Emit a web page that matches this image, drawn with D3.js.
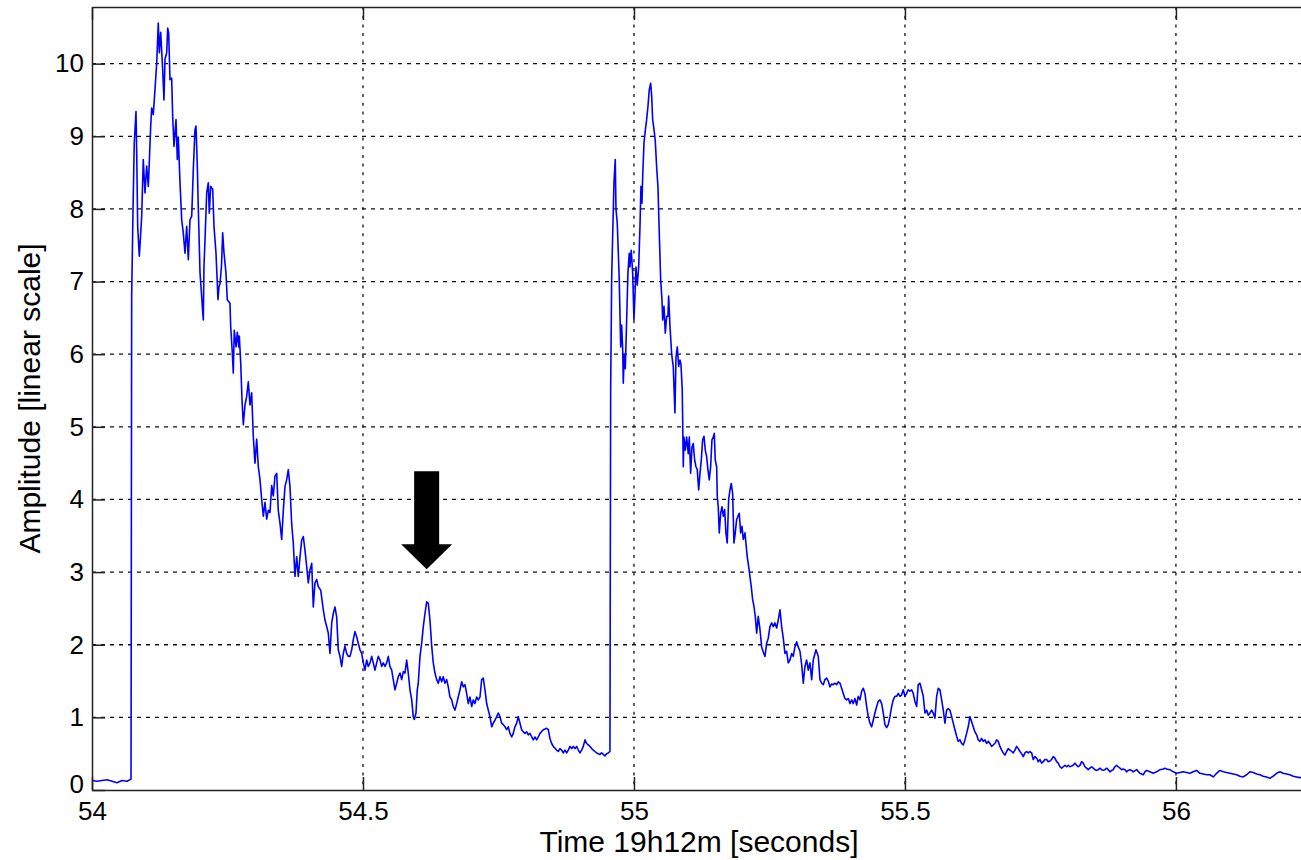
<!DOCTYPE html>
<html>
<head>
<meta charset="utf-8">
<script src="https://cdn.jsdelivr.net/npm/d3@7"></script>
<style>
	body { margin: 0; background: #fff; }
	svg { display: block; font-family: "Liberation Sans", Arial, sans-serif; }
	.grid line { stroke: #111; stroke-width: 1.3; }
	.axis path, .axis line { stroke: #222; stroke-width: 1.5; }
	.axis text { font-size: 26px; fill: #000; }
	.label { font-size: 30px; fill: #000; }
</style>
</head>
<body>
<div id="chart"></div>
<script>
// segnale: [tempo (s), ampiezza]
const firstPulse = [
	[54.0000,0.13],[54.0092,0.12],[54.0185,0.13],[54.0277,0.14],[54.0369,0.12],[54.0461,0.10],[54.0554,0.13],[54.0646,0.12],[54.0720,0.15],
	[54.0732,6.79],[54.0756,7.95],[54.0780,8.91],[54.0812,9.34],[54.0825,8.77],[54.0843,7.76],[54.0873,7.35],[54.0899,7.67],[54.0917,7.90],
	[54.0946,8.68],[54.0978,8.22],[54.1009,8.59],[54.1039,8.31],[54.1057,8.64],[54.1083,9.14],[54.1101,9.39],[54.1131,9.30],[54.1162,9.64],
	[54.1194,10.01],[54.1223,10.56],[54.1242,10.15],[54.1268,10.43],[54.1304,9.92],[54.1328,9.50],[54.1347,10.06],[54.1378,10.15],[54.1397,10.49],
	[54.1415,10.42],[54.1439,9.78],[54.1470,9.80],[54.1489,9.27],[54.1513,8.86],[54.1550,9.23],[54.1574,8.68],[54.1592,8.99],[54.1624,8.36],
	[54.1655,7.85],[54.1684,7.67],[54.1716,7.39],[54.1747,7.76],[54.1777,7.30],[54.1808,7.85],[54.1840,7.90],[54.1869,8.54],[54.1900,9.09],
	[54.1919,9.14],[54.1943,8.59],[54.1961,8.03],[54.1993,7.12],[54.2024,6.79],[54.2042,6.59],[54.2054,6.47],[54.2066,7.20],[54.2085,7.57],
	[54.2116,8.22],[54.2146,8.36],[54.2164,7.94],[54.2190,8.31],[54.2227,8.27],[54.2251,7.76],[54.2288,7.39],[54.2325,6.75],[54.2343,6.93],
	[54.2362,6.97],[54.2389,7.21],[54.2411,7.67],[54.2435,7.40],[54.2472,7.12],[54.2496,6.75],[54.2546,6.70],[54.2559,6.38],[54.2589,6.02],
	[54.2607,5.74],[54.2625,6.33],[54.2657,6.10],[54.2681,6.30],[54.2707,6.10],[54.2718,6.25],[54.2744,5.88],[54.2768,5.37],[54.2792,5.03],
	[54.2823,5.30],[54.2854,5.42],[54.2884,5.62],[54.2915,5.30],[54.2946,5.47],[54.2976,4.87],[54.3007,4.50],[54.3039,4.83],[54.3068,4.46],
	[54.3100,4.27],[54.3131,4.00],[54.3161,3.77],[54.3192,3.96],[54.3223,3.73],[54.3253,3.85],[54.3284,3.82],[54.3316,4.19],[54.3345,4.05],
	[54.3376,4.32],[54.3408,4.36],[54.3437,3.85],[54.3469,3.67],[54.3500,3.45],[54.3530,3.85],[54.3561,4.18],[54.3592,4.27],[54.3622,4.41],
	[54.3653,4.18],[54.3684,3.67],[54.3714,3.40],[54.3745,2.94],[54.3777,3.21],[54.3806,2.94],[54.3838,3.21],[54.3869,3.44],[54.3899,3.49],
	[54.3930,3.30],[54.3961,3.08],[54.3991,2.85],[54.4022,3.03],[54.4054,3.12],[54.4083,2.52],[54.4114,2.85],[54.4146,2.90],[54.4175,2.80],
	[54.4220,2.75],[54.4268,2.48],[54.4299,2.34],[54.4330,2.25],[54.4360,2.16],[54.4391,1.88],[54.4423,2.30],[54.4452,2.43],[54.4483,2.52],
	[54.4515,2.38],[54.4544,1.93],[54.4576,1.84],[54.4607,1.70],[54.4637,1.88],[54.4668,1.98],[54.4699,1.88],[54.4729,1.84],[54.4760,1.84],
	[54.4792,1.93],[54.4821,2.07],[54.4852,2.18],[54.4884,2.11],[54.4913,2.02],[54.4945,1.93],[54.4976,1.88],[54.5006,1.75],[54.5037,1.65],
	[54.5068,1.79],[54.5098,1.70],[54.5129,1.75],[54.5161,1.84],[54.5190,1.75],[54.5221,1.65],[54.5253,1.75],[54.5282,1.84],[54.5314,1.79],
	[54.5345,1.70],[54.5375,1.75],[54.5406,1.70],[54.5437,1.75],[54.5467,1.84],[54.5498,1.70],[54.5530,1.65],[54.5559,1.52],[54.5590,1.38],
	[54.5622,1.47],[54.5651,1.56],[54.5683,1.61],[54.5714,1.52],[54.5744,1.63],[54.5775,1.61],[54.5806,1.79],[54.5836,1.61],[54.5867,1.38],
	[54.5899,1.24],[54.5928,1.01],[54.5947,0.97],[54.5978,1.06],[54.6002,1.38],[54.6020,1.47],[54.6052,1.84],[54.6083,2.02],[54.6113,2.25],
	[54.6144,2.43],[54.6175,2.59],[54.6205,2.57],[54.6236,2.34],[54.6268,1.98],[54.6297,1.75],[54.6328,1.61],[54.6360,1.52],[54.6389,1.47],
	[54.6421,1.56],[54.6452,1.49],[54.6482,1.56],[54.6513,1.47],[54.6544,1.52],[54.6574,1.42],[54.6605,1.28],[54.6637,1.24],[54.6666,1.15],
	[54.6697,1.10],[54.6729,1.19],[54.6758,1.28],[54.6790,1.38],[54.6821,1.49],[54.6851,1.42],[54.6882,1.45],[54.6913,1.33],[54.6943,1.19],
	[54.6974,1.28],[54.7006,1.15],[54.7035,1.24],[54.7066,1.19],[54.7098,1.28],[54.7127,1.24],[54.7159,1.28],[54.7190,1.52],[54.7220,1.54],
	[54.7251,1.38],[54.7282,1.19],[54.7312,1.10],[54.7343,1.01],[54.7375,0.87],[54.7404,0.92],[54.7435,0.96],[54.7467,1.01],[54.7496,1.06],
	[54.7528,1.01],[54.7559,0.92],[54.7589,0.90],[54.7620,0.87],[54.7651,0.83],[54.7681,0.87],[54.7712,0.78],[54.7744,0.73],[54.7773,0.78],
	[54.7804,0.87],[54.7836,0.92],[54.7865,1.01],[54.7897,0.92],[54.7928,0.83],[54.7958,0.80],[54.7989,0.78],[54.8020,0.80],[54.8050,0.76],
	[54.8081,0.78],[54.8113,0.73],[54.8142,0.69],[54.8173,0.73],[54.8205,0.69],[54.8234,0.73],[54.8266,0.78],[54.8327,0.83],[54.8389,0.85],
	[54.8419,0.83],[54.8450,0.71],[54.8481,0.64],[54.8511,0.60],[54.8574,0.55],[54.8603,0.53],[54.8635,0.57],[54.8666,0.55],[54.8696,0.51],
	[54.8727,0.55],[54.8758,0.51],[54.8788,0.55],[54.8819,0.60],[54.8851,0.57],[54.8880,0.60],[54.8911,0.57],[54.8943,0.60],[54.8972,0.55],
	[54.9004,0.51],[54.9035,0.55],[54.9065,0.60],[54.9096,0.69],[54.9127,0.64],[54.9157,0.62],[54.9188,0.60],[54.9220,0.57],[54.9249,0.55],
	[54.9280,0.53],[54.9312,0.51],[54.9341,0.50],[54.9373,0.49],[54.9404,0.51],[54.9434,0.49],[54.9465,0.47],[54.9496,0.50],[54.9526,0.51],
	[54.9557,0.53]
];

const secondPulse = [
	[54.9570,5.51],[54.9589,7.07],[54.9607,7.62],[54.9631,8.36],[54.9655,8.68],[54.9668,8.00],[54.9692,7.80],[54.9718,7.25],[54.9729,7.00],
	[54.9755,6.10],[54.9773,6.40],[54.9792,6.06],[54.9803,5.60],[54.9821,6.00],[54.9840,5.80],[54.9865,6.47],[54.9889,7.12],[54.9913,7.39],
	[54.9926,7.20],[54.9950,7.43],[54.9976,7.12],[55.0000,6.47],[55.0018,6.80],[55.0037,7.20],[55.0061,6.95],[55.0087,7.20],[55.0111,7.76],
	[55.0129,8.31],[55.0148,8.08],[55.0161,8.45],[55.0185,8.91],[55.0209,9.08],[55.0234,9.23],[55.0258,9.41],[55.0282,9.64],[55.0308,9.73],
	[55.0327,9.55],[55.0345,9.23],[55.0369,9.10],[55.0393,8.94],[55.0419,8.57],[55.0443,8.30],[55.0467,7.67],[55.0493,7.02],[55.0517,6.75],
	[55.0530,6.47],[55.0554,6.66],[55.0578,6.29],[55.0603,6.52],[55.0627,6.52],[55.0640,6.80],[55.0664,6.39],[55.0696,6.00],[55.0725,5.83],
	[55.0756,5.19],[55.0775,5.95],[55.0799,6.10],[55.0825,5.83],[55.0849,5.92],[55.0867,5.86],[55.0891,5.51],[55.0910,4.45],[55.0923,4.86],
	[55.0947,4.68],[55.0972,4.86],[55.1002,4.63],[55.1021,4.86],[55.1046,4.36],[55.1070,4.72],[55.1094,4.77],[55.1120,4.54],[55.1144,4.45],
	[55.1168,4.41],[55.1194,4.13],[55.1218,4.36],[55.1242,4.54],[55.1267,4.82],[55.1292,4.87],[55.1316,4.68],[55.1341,4.59],[55.1365,4.41],
	[55.1389,4.27],[55.1415,4.45],[55.1439,4.82],[55.1463,4.86],[55.1482,4.91],[55.1500,4.54],[55.1526,4.45],[55.1537,4.04],[55.1555,3.90],
	[55.1574,3.54],[55.1600,3.81],[55.1624,3.90],[55.1648,3.77],[55.1673,3.86],[55.1697,3.54],[55.1721,3.40],[55.1747,4.00],[55.1771,4.13],
	[55.1795,4.22],[55.1821,4.08],[55.1845,3.40],[55.1869,3.54],[55.1894,3.72],[55.1919,3.77],[55.1943,3.81],[55.1968,3.54],[55.1993,3.63],
	[55.2017,3.45],[55.2048,3.54],[55.2066,3.40],[55.2090,3.21],[55.2116,3.08],[55.2140,2.94],[55.2164,2.80],[55.2190,2.62],[55.2214,2.53],
	[55.2238,2.39],[55.2264,2.16],[55.2293,2.39],[55.2325,2.21],[55.2356,1.97],[55.2386,1.90],[55.2417,1.84],[55.2448,2.02],[55.2478,2.09],
	[55.2509,2.25],[55.2541,2.30],[55.2570,2.25],[55.2601,2.30],[55.2633,2.23],[55.2662,2.34],[55.2694,2.48],[55.2725,2.25],[55.2755,2.09],
	[55.2786,1.88],[55.2817,1.91],[55.2847,1.75],[55.2878,1.79],[55.2910,1.88],[55.2939,1.84],[55.2970,1.97],[55.3002,2.04],[55.3031,1.97],
	[55.3063,1.91],[55.3094,1.73],[55.3124,1.47],[55.3155,1.70],[55.3186,1.79],[55.3216,1.65],[55.3247,1.75],[55.3279,1.52],[55.3308,1.79],
	[55.3358,1.93],[55.3401,1.84],[55.3432,1.52],[55.3463,1.47],[55.3493,1.45],[55.3524,1.52],[55.3555,1.54],[55.3585,1.50],[55.3616,1.42],
	[55.3648,1.46],[55.3677,1.45],[55.3708,1.47],[55.3740,1.45],[55.3769,1.49],[55.3801,1.47],[55.3832,1.40],[55.3862,1.33],[55.3893,1.26],
	[55.3924,1.24],[55.3954,1.26],[55.3985,1.19],[55.4017,1.24],[55.4046,1.19],[55.4077,1.26],[55.4109,1.17],[55.4138,1.29],[55.4170,1.24],
	[55.4201,1.36],[55.4231,1.40],[55.4262,1.33],[55.4293,1.15],[55.4323,1.01],[55.4354,0.92],[55.4386,0.87],[55.4415,0.96],[55.4446,1.06],
	[55.4478,1.15],[55.4507,1.22],[55.4539,1.24],[55.4570,1.19],[55.4600,1.06],[55.4631,0.90],[55.4662,0.86],[55.4692,0.90],[55.4723,1.01],
	[55.4755,1.15],[55.4784,1.24],[55.4815,1.29],[55.4847,1.29],[55.4876,1.33],[55.4908,1.29],[55.4939,1.31],[55.4969,1.38],[55.5000,1.29],
	[55.5031,1.33],[55.5061,1.38],[55.5092,1.36],[55.5124,1.38],[55.5153,1.33],[55.5184,1.22],[55.5216,1.15],[55.5245,1.45],[55.5277,1.47],
	[55.5308,1.38],[55.5338,1.29],[55.5369,1.06],[55.5400,1.10],[55.5430,1.03],[55.5461,1.06],[55.5493,1.10],[55.5522,1.06],[55.5553,0.99],
	[55.5585,1.29],[55.5614,1.40],[55.5646,1.38],[55.5677,1.24],[55.5707,1.10],[55.5738,0.92],[55.5769,1.10],[55.5799,1.12],[55.5830,1.10],
	[55.5862,1.01],[55.5891,0.92],[55.5922,0.83],[55.5954,0.74],[55.5983,0.67],[55.6015,0.69],[55.6046,0.64],[55.6076,0.62],[55.6107,0.69],
	[55.6138,0.78],[55.6168,0.87],[55.6199,1.01],[55.6231,0.94],[55.6260,0.87],[55.6291,0.80],[55.6323,0.76],[55.6352,0.69],[55.6384,0.67],
	[55.6415,0.71],[55.6445,0.67],[55.6476,0.69],[55.6507,0.64],[55.6537,0.67],[55.6568,0.64],[55.6600,0.60],[55.6629,0.62],[55.6660,0.64],
	[55.6692,0.69],[55.6721,0.67],[55.6753,0.60],[55.6784,0.55],[55.6814,0.51],[55.6845,0.48],[55.6876,0.53],[55.6906,0.57],[55.6937,0.55],
	[55.6969,0.53],[55.6998,0.51],[55.7029,0.55],[55.7061,0.60],[55.7090,0.57],[55.7122,0.53],[55.7153,0.50],[55.7183,0.46],[55.7214,0.51],
	[55.7245,0.53],[55.7275,0.51],[55.7306,0.53],[55.7338,0.51],[55.7367,0.42],[55.7398,0.46],[55.7430,0.44],[55.7459,0.39],[55.7491,0.42],
	[55.7522,0.37],[55.7552,0.39],[55.7583,0.42],[55.7614,0.42],[55.7644,0.39],[55.7675,0.40],[55.7707,0.42],[55.7736,0.46],[55.7767,0.44],
	[55.7799,0.39],[55.7828,0.37],[55.7860,0.32],[55.7891,0.30],[55.7921,0.32],[55.7952,0.34],[55.7983,0.32],[55.8013,0.34],[55.8044,0.32],
	[55.8076,0.33],[55.8105,0.34],[55.8136,0.37],[55.8168,0.34],[55.8197,0.32],[55.8229,0.34],[55.8260,0.39],[55.8290,0.37],[55.8321,0.32],
	[55.8352,0.30],[55.8382,0.28],[55.8413,0.30],[55.8445,0.32],[55.8474,0.30],[55.8505,0.28],[55.8537,0.27],[55.8566,0.28],[55.8598,0.30],
	[55.8629,0.28],[55.8659,0.27],[55.8690,0.28],[55.8721,0.30],[55.8751,0.28],[55.8782,0.25],[55.8814,0.27],[55.8843,0.28],[55.8874,0.32],
	[55.8906,0.34],[55.8935,0.32],[55.8967,0.30],[55.8998,0.28],[55.9028,0.29],[55.9059,0.28],[55.9090,0.25],[55.9120,0.27],[55.9151,0.28],
	[55.9183,0.27],[55.9212,0.25],[55.9275,0.28],[55.9336,0.23],[55.9397,0.21],[55.9428,0.25],[55.9459,0.27],[55.9520,0.25],[55.9581,0.23],
	[55.9644,0.25],[55.9705,0.28],[55.9766,0.29],[55.9797,0.30],[55.9828,0.29],[55.9889,0.28],[55.9950,0.25],[56.0013,0.23],[56.0074,0.24],
	[56.0135,0.25],[56.0197,0.24],[56.0258,0.23],[56.0319,0.25],[56.0382,0.27],[56.0443,0.23],[56.0504,0.22],[56.0566,0.21],[56.0627,0.21],
	[56.0688,0.18],[56.0751,0.23],[56.0780,0.25],[56.0812,0.27],[56.0872,0.25],[56.0935,0.24],[56.0996,0.23],[56.1057,0.22],[56.1120,0.21],
	[56.1181,0.19],[56.1241,0.18],[56.1304,0.21],[56.1365,0.25],[56.1426,0.24],[56.1489,0.22],[56.1550,0.21],[56.1610,0.19],[56.1673,0.18],
	[56.1734,0.16],[56.1795,0.19],[56.1858,0.23],[56.1919,0.25],[56.1979,0.23],[56.2042,0.22],[56.2103,0.21],[56.2164,0.19],[56.2227,0.18],
	[56.2288,0.17],[56.2380,0.18]
];

const xTicks = [54, 54.5, 55, 55.5, 56];
const yTicks = [0, 1, 2, 3, 4, 5, 6, 7, 8, 9, 10];
const xDomain = [54, 56.24];
const yDomain = [0, 10.78];

// punta della freccia nera [tempo, ampiezza]
const arrowTip = [54.6175, 3.04];

function drawChart() {
	const width = 1301, height = 860;
	// il bordo destro del grafico cade appena fuori dall'immagine
	const plot = { left: 92, top: 7, right: 1306, bottom: 790 };

	const x = d3.scaleLinear().domain(xDomain).range([plot.left, plot.right]);
	const y = d3.scaleLinear().domain(yDomain).range([plot.bottom, plot.top]);

	const svg = d3.select("#chart").append("svg")
		.attr("width", width)
		.attr("height", height);

	svg.append("rect").attr("width", width).attr("height", height).attr("fill", "#fff");

	svg.append("clipPath").attr("id", "clip")
		.append("rect")
		.attr("x", plot.left).attr("y", plot.top)
		.attr("width", plot.right - plot.left).attr("height", plot.bottom - plot.top);

	// griglia
	const grid = svg.append("g").attr("class", "grid");
	grid.selectAll(".hgrid")
		.data(yTicks.filter(d => d > 0))
		.enter().append("line")
		.attr("x1", plot.left).attr("x2", plot.right)
		.attr("y1", d => y(d)).attr("y2", d => y(d))
		.attr("stroke-dasharray", "4,5");
	grid.selectAll(".vgrid")
		.data(xTicks.filter(d => d > xDomain[0]))
		.enter().append("line")
		.attr("x1", d => x(d)).attr("x2", d => x(d))
		.attr("y1", plot.top).attr("y2", plot.bottom)
		.attr("stroke-dasharray", "3,5.7");

	// segnale
	const line = d3.line().x(d => x(d[0])).y(d => y(d[1]));
	svg.append("path")
		.datum(firstPulse.concat(secondPulse))
		.attr("clip-path", "url(#clip)")
		.attr("fill", "none")
		.attr("stroke", "#0000ff")
		.attr("stroke-width", 1.6)
		.attr("stroke-linejoin", "round")
		.attr("d", line);

	// assi con tacche verso l'interno, stile matlab
	svg.append("g").attr("class", "axis")
		.attr("transform", "translate(0," + plot.bottom + ")")
		.call(d3.axisBottom(x).tickValues(xTicks).tickSize(-13).tickSizeOuter(0).tickPadding(12)
			.tickFormat(d3.format("")));
	svg.append("g").attr("class", "axis")
		.attr("transform", "translate(0," + plot.top + ")")
		.call(d3.axisTop(x).tickValues(xTicks).tickSize(-13).tickSizeOuter(0).tickFormat(""));
	const yAxis = svg.append("g").attr("class", "axis")
		.attr("transform", "translate(" + plot.left + ",0)")
		.call(d3.axisLeft(y).tickValues(yTicks).tickSize(-13).tickSizeOuter(0).tickPadding(8));
	// lo zero sta un filo sopra, come nell'originale, per non toccare il "54"
	yAxis.selectAll(".tick text").filter(d => d === 0).attr("dy", "0.1em");

	// freccia
	const tx = x(arrowTip[0]), ty = y(arrowTip[1]);
	const shaftW = 12.5, headW = 25.5, headH = 25, len = 98;
	const pts = [
		[tx - shaftW, ty - len], [tx + shaftW, ty - len], [tx + shaftW, ty - headH],
		[tx + headW, ty - headH], [tx, ty], [tx - headW, ty - headH], [tx - shaftW, ty - headH]
	];
	svg.append("polygon")
		.attr("points", pts.map(p => p.join(",")).join(" "))
		.attr("fill", "#000");

	// etichette degli assi
	svg.append("text").attr("class", "label")
		.attr("x", (plot.left + plot.right) / 2)
		.attr("y", 852)
		.attr("text-anchor", "middle")
		.text("Time 19h12m [seconds]");
	svg.append("text").attr("class", "label")
		.attr("transform", "translate(40," + (plot.top + plot.bottom) / 2 + ") rotate(-90)")
		.attr("text-anchor", "middle")
		.text("Amplitude [linear scale]");
}

drawChart();
</script>
</body>
</html>
